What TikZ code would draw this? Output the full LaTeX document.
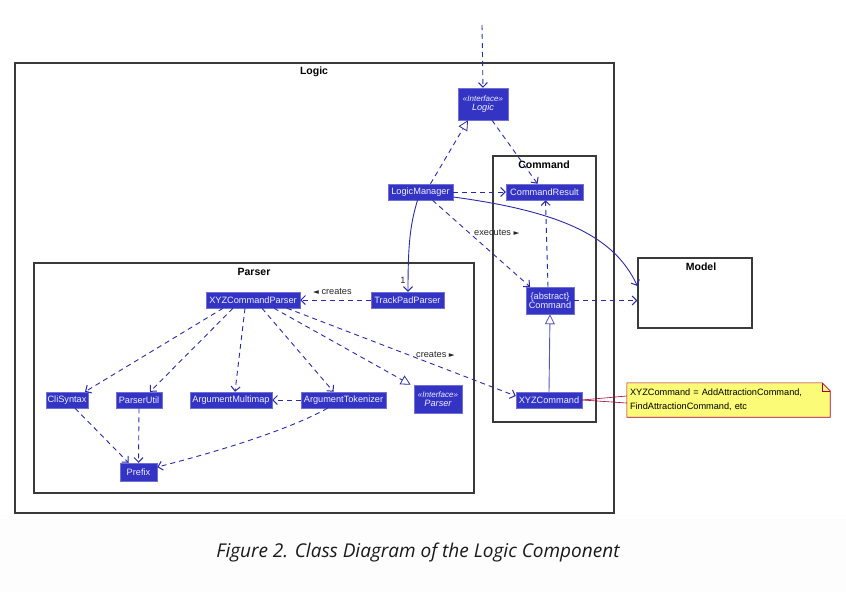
\documentclass[tikz,border=0pt]{standalone}
\usepackage{fontspec}
\setmainfont{Liberation Sans}
\newfontfamily\symfont{DejaVu Sans}
\newfontfamily\capfont{Open Sans}
\usetikzlibrary{arrows.meta,calc}
\pgfdeclarelayer{bg}
\pgfsetlayers{bg,main}
\definecolor{clsblue}{HTML}{3333C4}
\definecolor{arrowblue}{HTML}{2A2AA6}
\definecolor{framegray}{HTML}{3A3A3A}
\definecolor{noteyellow}{HTML}{FBFB77}
\definecolor{notered}{HTML}{A80036}
\definecolor{capgray}{HTML}{FDFDFD}
\tikzset{
  cls/.style={fill=clsblue, draw=clsblue!70!white, text=white!92!clsblue, inner sep=0pt,
    line width=0.5pt, font=\fontsize{9.2}{10.5}\selectfont, align=center},
  pkg/.style={draw=framegray, line width=1.2pt, inner sep=0pt},
  pkgtitle/.style={font=\bfseries\fontsize{10.5}{12}\selectfont, inner sep=0pt},
  dep/.style={arrowblue, line width=0.9pt, dash pattern=on 5pt off 4pt,
    -{Straight Barb[length=4.5pt,width=9pt,line width=1pt]}},
  assoc/.style={arrowblue, line width=0.9pt,
    -{Straight Barb[length=4.5pt,width=9pt,line width=1pt]}},
  real/.style={arrowblue, line width=0.9pt, dash pattern=on 5pt off 4pt,
    -{Triangle[open,length=10pt,width=10pt,fill=white,line width=0.8pt]}},
  gen/.style={arrowblue!80!white, line width=0.9pt,
    -{Triangle[open,length=10pt,width=10pt,fill=white,line width=0.8pt]}},
  lbl/.style={font=\fontsize{9.2}{10}\selectfont, inner sep=0pt, text=black!85},
}
\newcommand{\rtri}{{\symfont\fontsize{7.5}{8}\selectfont\raisebox{0.5pt}{►}}}
\newcommand{\ltri}{{\symfont\fontsize{7.5}{8}\selectfont\raisebox{0.5pt}{◄}}}
\begin{document}
\begin{tikzpicture}[x=1pt,y=-1pt]
\useasboundingbox (0,0) rectangle (846,592);
\fill[capgray] (0,519) rectangle (846,592);

% packages
\node[pkg, minimum width=599pt, minimum height=450pt] (logicpkg) at (314.5,288) {};
\node[pkgtitle] (logictitle) at (314,72) {Logic};
\node[pkg, minimum width=103pt, minimum height=266pt] (cmdpkg) at (544.5,289) {};
\node[pkgtitle] (cmdtitle) at (544,165) {Command};
\node[pkg, minimum width=440pt, minimum height=230pt] (parserpkg) at (254,378) {};
\node[pkgtitle] (parsertitle) at (254,272) {Parser};
\node[pkg, minimum width=114pt, minimum height=70pt] (model) at (695,293) {};
\node[pkgtitle] (modeltitle) at (701,267) {Model};

% classes
\node[cls, minimum width=50pt, minimum height=32pt] (logic) at (483,104)
  {{\itshape\fontsize{8}{9}\selectfont «Interface»}\\[-1pt]{\itshape Logic}};
\node[cls, minimum width=65pt, minimum height=16pt] (lm) at (420.5,192) {LogicManager};
\node[cls, minimum width=77pt, minimum height=16pt] (cr) at (544.5,192) {CommandResult};
\node[cls, minimum width=48pt, minimum height=27pt] (cmd) at (550,300.5) {\{abstract\}\\[-2pt]Command};
\node[cls, minimum width=66pt, minimum height=16pt] (xyzc) at (549,400) {XYZCommand};

\node[cls, minimum width=94pt, minimum height=16pt] (xyzp) at (253,300) {XYZCommandParser};
\node[cls, minimum width=73pt, minimum height=16pt] (tpp) at (407.5,300) {TrackPadParser};
\node[cls, minimum width=42pt, minimum height=16pt] (cli) at (67,400) {CliSyntax};
\node[cls, minimum width=46pt, minimum height=16pt] (pu) at (139,400) {ParserUtil};
\node[cls, minimum width=82pt, minimum height=16pt] (amm) at (231,400) {ArgumentMultimap};
\node[cls, minimum width=85pt, minimum height=16pt] (atok) at (343.5,400) {ArgumentTokenizer};
\node[cls, minimum width=48pt, minimum height=28pt] (ipars) at (438,399)
  {{\itshape\fontsize{8}{9}\selectfont «Interface»}\\[-1pt]{\itshape Parser}};
\node[cls, minimum width=37pt, minimum height=18pt] (prefix) at (138.5,472) {Prefix};

% note
\node[inner sep=0pt, minimum width=203pt, minimum height=34pt, text width=197pt, align=left,
  font=\fontsize{9.2}{14}\selectfont] (note) at (728.5,400)
  {XYZCommand = AddAttractionCommand,\\FindAttractionCommand, etc};
\begin{pgfonlayer}{bg}
\filldraw[fill=noteyellow, draw=notered, line width=0.6pt]
  (note.north west) -- ([xshift=-8pt]note.north east) -- ([yshift=-8pt]note.north east)
  -- (note.south east) -- (note.south west) -- cycle;
\draw[notered, line width=0.6pt] ([xshift=-8pt]note.north east) -- ([xshift=-8pt,yshift=-8pt]note.north east)
  -- ([yshift=-8pt]note.north east);
\end{pgfonlayer}
\draw[notered, line width=0.6pt] (xyzc.east) -- ([yshift=4pt]note.west);
\draw[notered, line width=0.6pt] (xyzc.east) -- ([yshift=-3pt]note.west);

% connectors
\coordinate (topin) at (482,25);
\draw[dep] (topin) -- (logic.north);
\draw[real] ([xshift=10pt]lm.north) -- ([xshift=-15pt]logic.south);
\draw[dep] ([xshift=9pt]logic.south) -- ([xshift=-7pt]cr.north);
\draw[dep] (lm.east) -- (cr.west);
\draw[assoc] ([yshift=-5pt]lm.east) .. controls (565,212) and (615,238) .. ([yshift=7pt]model.west);
\draw[assoc] ([xshift=-3pt]lm.south) .. controls (410,225) and (408,245) .. ([xshift=0.5pt]tpp.north);
\node[lbl] (one) at (403,280) {1};
\draw[dep] ([xshift=12pt]lm.south) -- ([xshift=-20pt]cmd.north);
\node[lbl, anchor=west] (execlbl) at (474,233) {executes \rtri};
\draw[dep] ([xshift=-2pt]cmd.north) -- ([xshift=1pt]cr.south);
\draw[dep] (cmd.east) -- (cmd.east -| model.west);
\draw[gen] (xyzc.north) -- (cmd.south);

\draw[dep] (tpp.west) -- (xyzp.east);
\node[lbl, anchor=west] (creates1) at (313,292) {\ltri\ creates};
\draw[dep] ([xshift=-30pt]xyzp.south) -- ([xshift=18pt]cli.north);
\draw[dep] ([xshift=-20pt]xyzp.south) -- ([xshift=11pt]pu.north);
\draw[dep] ([xshift=-8pt]xyzp.south) -- ([xshift=4pt]amm.north);
\draw[dep] ([xshift=9pt]xyzp.south) -- ([xshift=-10pt]atok.north);
\draw[real] ([xshift=21pt]xyzp.south) -- ([xshift=-3pt]ipars.north west);
\draw[dep] ([xshift=34pt]xyzp.south) -- ([yshift=4pt]xyzc.west);
\node[lbl, anchor=west] (creates2) at (416,355) {creates \rtri};
\draw[dep] (atok.west) -- (amm.east);
\draw[dep] ([xshift=8pt]cli.south) -- ([xshift=-10pt]prefix.north);
\draw[dep] (pu.south) -- (prefix.north);
\draw[dep] ([xshift=-16pt]atok.south) .. controls (285,432) and (205,455) .. ([yshift=5pt]prefix.east);

% caption
\node[inner sep=0pt, font=\capfont\itshape\fontsize{19}{22}\selectfont, text=black!90] (caption) at (418,553)
  {Figure 2. Class Diagram of the Logic Component};
\end{tikzpicture}
\end{document}
